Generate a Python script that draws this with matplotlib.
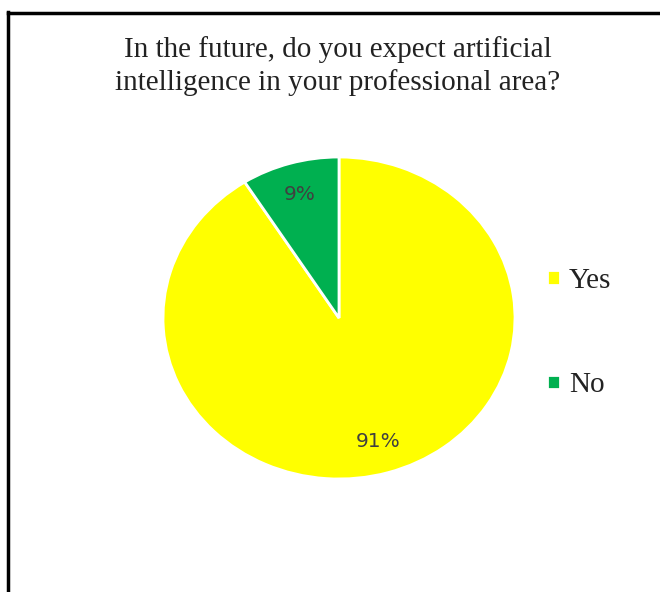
import matplotlib.pyplot as plt
from matplotlib.lines import Line2D

# Dados
labels = ["Yes", "No"]
valores = [91, 9]
cores = ["#FFFF00", "#00B050"]
titulo = "In the future, do you expect artificial\nintelligence in your professional area?"

W, H = 660, 592
fig = plt.figure(figsize=(W / 100, H / 100), dpi=100)
fig.patch.set_facecolor("white")

# área da pizza (levemente esticada como no original)
ax = fig.add_axes([163 / W, (H - 479) / H, 352 / W, 322 / H])
wedges, textos, pcts = ax.pie(valores, colors=cores, startangle=90, counterclock=False,
                              autopct="%1.0f%%", pctdistance=0.8,
                              wedgeprops=dict(edgecolor="white", linewidth=2),
                              textprops=dict(color="#404040", fontsize=14.5))
ax.set_aspect("auto")
ax.set_xlim(-1, 1)
ax.set_ylim(-1, 1)

# Título
fig.text(338 / W, 1 - 66 / H, titulo, ha="center", va="center",
         fontsize=21, family="Liberation Serif", color="#222222", linespacing=1.27)

# Legenda
fig.legend(wedges, labels, loc="center left", bbox_to_anchor=(521 / W, 1 - 333 / H),
           frameon=False, prop=dict(family="Liberation Serif", size=21),
           labelspacing=2.7, handlelength=0.45, handleheight=0.4, handletextpad=0.3,
           labelcolor="#222222")

# Bordas
fig.add_artist(Line2D([8 / W, 8 / W], [0, 1 - 12 / H], transform=fig.transFigure,
                      color="black", lw=2.5))
fig.add_artist(Line2D([8 / W, 1], [1 - 13 / H, 1 - 13 / H], transform=fig.transFigure,
                      color="black", lw=2.5))

plt.savefig("out.png", dpi=100)
